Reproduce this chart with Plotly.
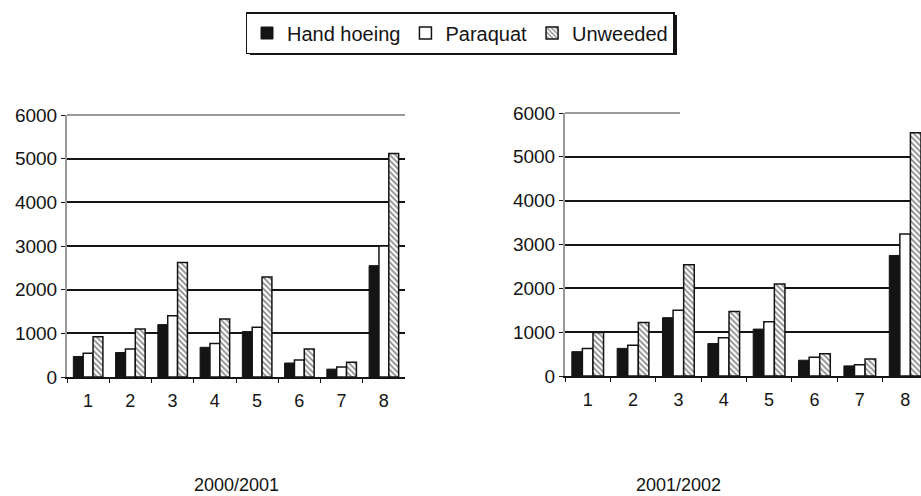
import plotly.graph_objects as go

CATS = ["1", "2", "3", "4", "5", "6", "7", "8"]
SERIES = ["Hand hoeing", "Paraquat", "Unweeded"]

# 2000/2001
HAND_2001 = [470, 560, 1200, 680, 1040, 320, 180, 2550]
PARAQUAT_2001 = [545, 640, 1400, 770, 1140, 390, 230, 3000]
UNWEEDED_2001 = [920, 1100, 2620, 1330, 2290, 640, 340, 5120]

# 2001/2002
HAND_2002 = [555, 630, 1330, 740, 1070, 360, 230, 2750]
PARAQUAT_2002 = [630, 700, 1500, 870, 1240, 430, 255, 3240]
UNWEEDED_2002 = [990, 1220, 2540, 1470, 2100, 510, 390, 5550]

TITLES = ["2000/2001", "2001/2002"]
FONT = "Liberation Sans, Arial, sans-serif"
INK = "#141414"
GREY = "#9a9a9a"
W, H = 921, 496


def px(x):
    return x / W


def py(y):
    return 1 - y / H


def styles():
    return [
        dict(color=INK, line=dict(color=INK, width=1)),
        dict(color="white", line=dict(color=INK, width=1.5)),
        dict(color="white", line=dict(color=INK, width=1.5),
             pattern=dict(shape="\\", fgcolor=INK, size=4, solidity=0.45)),
    ]


fig = go.Figure()
data = [
    (HAND_2001, PARAQUAT_2001, UNWEEDED_2001),
    (HAND_2002, PARAQUAT_2002, UNWEEDED_2002),
]
for i, vals in enumerate(data):
    xa = "x" if i == 0 else "x2"
    ya = "y" if i == 0 else "y2"
    for name, v, m in zip(SERIES, vals, styles()):
        fig.add_trace(go.Bar(x=CATS, y=v, name=name, marker=m, xaxis=xa, yaxis=ya,
                             showlegend=(i == 0)))

axis_x = dict(showgrid=False, showline=True, linecolor=INK, linewidth=1.5,
              ticks="outside", ticklen=4, tickcolor=INK, tickson="boundaries",
              ticklabelstandoff=7, automargin=False,
              tickfont=dict(size=18, color=INK))
axis_y = dict(range=[0, 6000], dtick=1000, showgrid=True, gridcolor=INK,
              gridwidth=1.5, showline=True, linecolor=GREY, linewidth=2,
              ticks="outside", ticklen=4, tickcolor=INK, zeroline=False,
              automargin=False, tickfont=dict(size=19, color=INK))

fig.update_layout(
    width=W, height=H,
    margin=dict(l=0, r=0, t=0, b=0),
    plot_bgcolor="white", paper_bgcolor="white",
    font=dict(family=FONT, color=INK),
    barmode="group", bargap=0.3, bargroupgap=0,
    xaxis=dict(domain=[px(67), px(405)], anchor="y", **axis_x),
    yaxis=dict(domain=[py(377), py(115)], anchor="x", **axis_y),
    # right panel runs past the page edge, so the last bar is cut like the scan
    xaxis2=dict(domain=[px(565), 1], anchor="y2", range=[-0.5, 7.35], **axis_x),
    yaxis2=dict(domain=[py(376), py(113)], anchor="x2", **axis_y),
    legend=dict(orientation="h", x=px(460), xanchor="center", y=py(12),
                yanchor="top", bgcolor="white", bordercolor=INK, borderwidth=1.5,
                font=dict(size=20, color=INK), itemwidth=30,
                traceorder="normal"),
)

# legend drop shadow
fig.add_shape(type="rect", xref="paper", yref="paper",
              x0=px(250), x1=px(677), y0=py(55), y1=py(15),
              fillcolor=INK, line=dict(width=0), layer="below")

# grey top frame of each panel
for x0, x1, yt in [(67, 405, 115), (565, 680, 113)]:
    fig.add_shape(type="line", xref="paper", yref="paper",
                  x0=px(x0), x1=px(x1), y0=py(yt), y1=py(yt),
                  line=dict(color=GREY, width=2))

for t, cx in zip(TITLES, [236, 678]):
    fig.add_annotation(text=t, x=px(cx), y=py(485), xref="paper", yref="paper",
                       xanchor="center", yanchor="middle", showarrow=False,
                       font=dict(size=18, color=INK))

# drop the default 8px page margin so the 921x496 figure fills the window
fig.write_html("out.html", config={"displayModeBar": False},
               post_script="document.body.style.margin = '0';")
